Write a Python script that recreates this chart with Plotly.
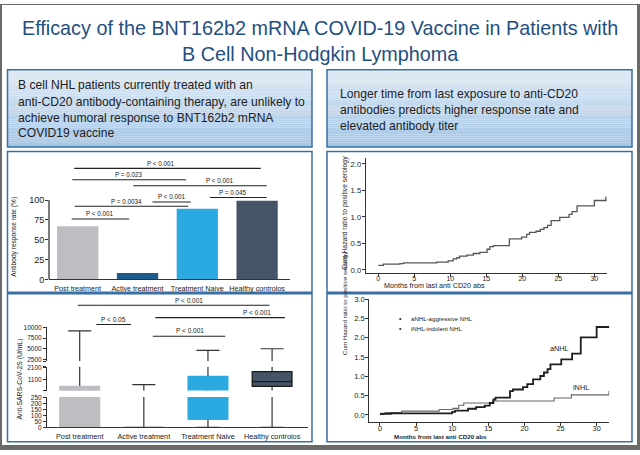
import plotly.graph_objects as go

W, H = 640, 455
def PX(x): return x / W
def PY(y): return 1 - y / H

# ---------------- data ----------------
categories = ["Post treatment", "Active treatment", "Treatment Naive", "Healthy controlos"]
response_rate = [67, 8, 89, 99]
group_colors = ["#bdbdc2", "#1d5b8c", "#2ba9e1", "#465467"]

bar_p_text = ["P < 0.001", "P = 0.023", "P < 0.001", "P < 0.001", "P = 0.045", "P = 0.0034", "P < 0.001"]
bar_p_from = [-0.06, -0.09, 0.93, 1.25, 2.21, -0.05, -0.10]
bar_p_to = [3.06, 1.81, 3.16, 1.89, 3.16, 1.85, 0.86]
bar_p_level = [139.9, 125.5, 118.1, 97.5, 103.3, 92.2, 76.2]
bar_p_label_x = [1.39, 0.86, 2.38, 1.57, 2.6, 0.81, 0.37]

titer_q1 = [0, 0, 72, 594]
titer_median = [250, 0, 700, 960]
titer_q3 = [594, 0, 1372, 1761]
titer_lowfence = [0, 0, 0, 0]
titer_upfence = [9200, 726, 4667, 5033]

box_p_text = ["P < 0.001", "P < 0.05", "P < 0.001", "P < 0.001"]
box_p_from = [-0.03, 0.26, 1.18, 1.14]
box_p_to = [2.96, 0.80, 3.20, 2.27]
box_p_line_py = [307.3, 327.0, 320.0, 339.0]
box_p_label_x = [1.70, 0.53, 2.76, 1.72]
box_p_label_py = [302.3, 321.7, 314.3, 333.3]

all_months = [0, 0.7, 3.0, 3.5, 8.1, 9.7, 10.4, 10.9, 11.3, 12.3, 13.2, 14.1, 15.1, 15.5, 16.0,
              18.2, 19.9, 20.6, 21.0, 21.9, 22.5, 23.0, 23.5, 24.0, 25.2, 26.5, 26.9, 27.6, 30.0, 31.6]
all_hazard = [0.085, 0.11, 0.12, 0.135, 0.148, 0.17, 0.21, 0.23, 0.26, 0.28, 0.31, 0.33, 0.39, 0.44, 0.46,
              0.585, 0.62, 0.67, 0.71, 0.73, 0.765, 0.80, 0.84, 0.93, 0.99, 1.05, 1.10, 1.21, 1.31, 1.38]

anhl_months = [0, 0.5, 1.5, 10.0, 10.4, 12.2, 13.3, 14.5, 15.2, 15.7, 16.0, 18.0, 18.4, 19.8, 20.4,
               21.2, 22.2, 22.7, 23.2, 23.6, 25.1, 26.6, 27.8, 30.0, 31.75]
anhl_hazard = [0.02, 0.03, 0.04, 0.08, 0.11, 0.16, 0.20, 0.24, 0.31, 0.40, 0.45, 0.62, 0.66, 0.72, 0.80,
               0.92, 1.01, 1.10, 1.19, 1.31, 1.44, 1.59, 2.01, 2.28, 2.28]
inhl_months = [0, 0.7, 3.0, 8.2, 10.1, 10.9, 11.6, 15.6, 24.1, 26.5, 31.6, 31.7]
inhl_hazard = [0.04, 0.06, 0.10, 0.14, 0.17, 0.25, 0.31, 0.36, 0.44, 0.52, 0.52, 0.62]

title_lines = ["Efficacy of the BNT162b2 mRNA COVID-19 Vaccine in Patients with",
               "B Cell Non-Hodgkin Lymphoma"]
left_box_lines = ["B cell NHL patients currently treated with an",
                  "anti-CD20 antibody-containing therapy, are unlikely to",
                  "achieve humoral response to BNT162b2 mRNA",
                  "COVID19 vaccine"]
right_box_lines = ["Longer time from last exposure to anti-CD20",
                   "antibodies predicts higher response rate and",
                   "elevated antibody titer"]

# ---------------- styles ----------------
SANS = "Liberation Sans, Arial, sans-serif"
TITLE_BLUE = "#1f4f82"
PANEL_BLUE = "#3a6ea6"
INK = "#222222"

fig = go.Figure()
shapes = []
annotations = []

# outer frame
shapes.append(dict(type="rect", xref="paper", yref="paper", x0=0, x1=1, y0=0, y1=1,
                   fillcolor="#6a6a6a", line_width=0, layer="below"))
shapes.append(dict(type="rect", xref="paper", yref="paper", x0=PX(2), x1=PX(637), y0=PY(450), y1=PY(1),
                   fillcolor="white", line_width=0, layer="below"))

def gradient_box(x0, y0, x1, y1, n=36):
    top = (224, 234, 245)
    bot = (164, 198, 231)
    for k in range(n):
        t = (k + 0.5) / n
        c = tuple(round(top[j] + (bot[j] - top[j]) * t) for j in range(3))
        shapes.append(dict(type="rect", xref="paper", yref="paper",
                           x0=PX(x0), x1=PX(x1),
                           y0=PY(y0 + (y1 - y0) * (k + 1) / n), y1=PY(y0 + (y1 - y0) * k / n),
                           fillcolor="rgb(%d,%d,%d)" % c, line_width=0, layer="below"))
    shapes.append(dict(type="rect", xref="paper", yref="paper", x0=PX(x0), x1=PX(x1),
                       y0=PY(y1), y1=PY(y0), line=dict(color=PANEL_BLUE, width=1.5), layer="below"))

def panel(x0, y0, x1, y1):
    shapes.append(dict(type="rect", xref="paper", yref="paper", x0=PX(x0), x1=PX(x1),
                       y0=PY(y1), y1=PY(y0), fillcolor="white",
                       line=dict(color=PANEL_BLUE, width=1.5), layer="below"))

gradient_box(7.5, 67, 312, 146)
gradient_box(327, 67, 632, 146)
panel(7.5, 150.5, 312, 294)
panel(7.5, 295.5, 312, 446.5)
panel(327, 150.5, 632, 294)
panel(327, 295.5, 632, 446.5)

# title and summary boxes
for line, py in zip(title_lines, [24, 51]):
    annotations.append(dict(text=line, xref="paper", yref="paper", x=0.5, y=PY(py),
                            xanchor="center", yanchor="middle", showarrow=False,
                            font=dict(family=SANS, size=19.8, color=TITLE_BLUE)))
for line, py in zip(left_box_lines, [82.7, 100, 116, 131.7]):
    annotations.append(dict(text=line, xref="paper", yref="paper", x=PX(15.5), y=PY(py),
                            xanchor="left", yanchor="middle", showarrow=False,
                            font=dict(family=SANS, size=12.1, color=INK)))
for line, py in zip(right_box_lines, [91.7, 108.3, 124]):
    annotations.append(dict(text=line, xref="paper", yref="paper", x=PX(337.5), y=PY(py),
                            xanchor="left", yanchor="middle", showarrow=False,
                            font=dict(family=SANS, size=12.1, color=INK)))

# ---------------- bar chart ----------------
fig.add_trace(go.Bar(x=categories, y=response_rate, marker=dict(color=group_colors, line_width=0),
                     width=0.69, xaxis="x", yaxis="y", hoverinfo="skip"))
shapes.append(dict(type="line", xref="paper", yref="y", x0=PX(49), x1=PX(49), y0=0, y1=100,
                   line=dict(color=INK, width=1.2)))
for t, a, b, lv, tx in zip(bar_p_text, bar_p_from, bar_p_to, bar_p_level, bar_p_label_x):
    shapes.append(dict(type="line", xref="x", yref="y", x0=a, x1=b, y0=lv, y1=lv,
                       line=dict(color=INK, width=1.1)))
    annotations.append(dict(text=t, xref="x", yref="y", x=tx, y=lv + 6.5, xanchor="center",
                            yanchor="middle", showarrow=False, font=dict(family=SANS, size=6.3, color=INK)))
annotations.append(dict(text="Antibody response rate (%)", xref="paper", yref="paper", x=PX(14.5), y=PY(238),
                        textangle=-90, showarrow=False, xanchor="center", yanchor="middle",
                        font=dict(family=SANS, size=6.6, color=INK)))

# ---------------- box plot (broken axis) ----------------
seg_axes = ["y2", "y3", "y4"]
for ya in seg_axes:
    for i, cat in enumerate(categories):
        fig.add_trace(go.Box(x=[cat], q1=[titer_q1[i]], median=[titer_q1[i]], q3=[titer_q1[i]],
                             lowerfence=[titer_lowfence[i]], upperfence=[titer_upfence[i]],
                             xaxis="x2", yaxis=ya, width=0.62, whiskerwidth=0.58, boxpoints=False,
                             line=dict(color="#333333", width=1.2), fillcolor="rgba(0,0,0,0)",
                             hoverinfo="skip"))
        if titer_q3[i] > titer_q1[i]:
            edge = "#1a1a1a" if i == 3 else group_colors[i]
            fig.add_trace(go.Box(x=[cat], q1=[titer_q1[i]], median=[titer_median[i]], q3=[titer_q3[i]],
                                 lowerfence=[titer_q1[i]], upperfence=[titer_q3[i]],
                                 xaxis="x2", yaxis=ya, width=0.62, whiskerwidth=0, boxpoints=False,
                                 line=dict(color=edge, width=1.3), fillcolor=group_colors[i],
                                 hoverinfo="skip"))
for t, a, b, lp, tx, tp in zip(box_p_text, box_p_from, box_p_to, box_p_line_py, box_p_label_x, box_p_label_py):
    shapes.append(dict(type="line", xref="x2", yref="paper", x0=a, x1=b, y0=PY(lp), y1=PY(lp),
                       line=dict(color=INK, width=1.1)))
    annotations.append(dict(text=t, xref="x2", yref="paper", x=tx, y=PY(tp), xanchor="center",
                            yanchor="middle", showarrow=False, font=dict(family=SANS, size=6.5, color=INK)))
annotations.append(dict(text="Anti-SARS-CoV-2S (U/mL)", xref="paper", yref="paper", x=PX(20), y=PY(383),
                        textangle=-90, showarrow=False, xanchor="center", yanchor="middle",
                        font=dict(family=SANS, size=6.8, color=INK)))

# ---------------- KM all patients ----------------
fig.add_trace(go.Scatter(x=all_months, y=all_hazard, mode="lines", xaxis="x3", yaxis="y5",
                         line=dict(shape="hv", color="#555555", width=1.3), hoverinfo="skip"))
annotations.append(dict(text="Cum Hazard ratio to positive serology", xref="paper", yref="paper",
                        x=PX(345), y=PY(213), textangle=-90, showarrow=False,
                        font=dict(family=SANS, size=6.8, color=INK)))
annotations.append(dict(text="Months from last anti CD20 abs", xref="paper", yref="paper",
                        x=PX(486.7), y=PY(287), showarrow=False, yanchor="middle",
                        font=dict(family=SANS, size=7.2, color=INK)))

# ---------------- KM by subtype ----------------
fig.add_trace(go.Scatter(x=inhl_months, y=inhl_hazard, mode="lines", xaxis="x4", yaxis="y6",
                         line=dict(shape="hv", color="#666666", width=1.1), hoverinfo="skip"))
fig.add_trace(go.Scatter(x=anhl_months, y=anhl_hazard, mode="lines", xaxis="x4", yaxis="y6",
                         line=dict(shape="hv", color="#1e1e1e", width=1.8), hoverinfo="skip"))
annotations.append(dict(text="aNHL", xref="x4", yref="y6", x=24.9, y=1.72, showarrow=False,
                        font=dict(family=SANS, size=7.3, color=INK)))
annotations.append(dict(text="iNHL", xref="x4", yref="y6", x=27.9, y=0.70, showarrow=False,
                        font=dict(family=SANS, size=7.3, color=INK)))
for txt, py in [("aNHL-aggressive NHL", 326), ("iNHL-indolent NHL", 336.7)]:
    annotations.append(dict(text="•", xref="paper", yref="paper", x=PX(400), y=PY(py), showarrow=False,
                            font=dict(family=SANS, size=7, color=INK)))
    annotations.append(dict(text=txt, xref="paper", yref="paper", x=PX(409), y=PY(py), showarrow=False,
                            xanchor="left", font=dict(family=SANS, size=6.1, color=INK)))
annotations.append(dict(text="Cum Hazard ratio to positive serology", xref="paper", yref="paper",
                        x=PX(345), y=PY(360), textangle=-90, showarrow=False,
                        font=dict(family=SANS, size=6.2, color=INK)))
annotations.append(dict(text="<b>Months from last anti CD20 abs</b>", xref="paper", yref="paper",
                        x=PX(489), y=PY(441.5), showarrow=False, yanchor="middle",
                        font=dict(family=SANS, size=6.2, color=INK)))

# ---------------- axes ----------------
def ax(**kw):
    base = dict(showgrid=False, zeroline=False, linecolor="#333333", linewidth=1.1,
                tickcolor="#333333", tickwidth=1, ticklen=3,
                tickfont=dict(family=SANS, size=7.3, color=INK))
    base.update(kw)
    return base

layout_axes = dict(
    xaxis=ax(domain=[PX(49), PX(290)], range=[-0.48, 3.55], anchor="y", showline=True, ticks="",
             ticklabelstandoff=2, tickfont=dict(family=SANS, size=7.2, color=INK)),
    yaxis=ax(domain=[PY(281), PY(159.5)], range=[0, 150], anchor="x", showline=False, ticks="outside",
             ticklen=3, ticklabelstandoff=-1, tickvals=[0, 25, 50, 75, 100],
             tickfont=dict(family=SANS, size=9, color=INK)),
    xaxis2=ax(domain=[PX(47), PX(308)], range=[-0.51, 3.56], anchor="y2", showline=True, ticks="",
              ticklabelstandoff=2, tickfont=dict(family=SANS, size=7.3, color=INK)),
    yaxis2=ax(domain=[PY(432), PY(401)], range=[0, 255], anchor="x2", showline=True, ticks="outside",
              tickvals=[0, 50, 100, 150, 200, 250, 255], ticktext=["0", "50", "100", "150", "200", "250", ""],
              tickfont=dict(family=SANS, size=6.5, color=INK)),
    yaxis3=ax(domain=[PY(394.3), PY(370)], range=[260, 2150], anchor="x2", showline=True, ticks="outside",
              tickvals=[260, 1100, 2100, 2150], ticktext=["", "1100", "2100", ""],
              tickfont=dict(family=SANS, size=6.5, color=INK)),
    yaxis4=ax(domain=[PY(364.3), PY(330)], range=[2150, 10000], anchor="x2", showline=True, ticks="outside",
              tickvals=[2150, 2500, 5000, 7500, 10000], ticktext=["", "2500", "5000", "7500", "10000"],
              tickfont=dict(family=SANS, size=6.5, color=INK)),
    xaxis3=ax(domain=[PX(365.7), PX(607.3)], range=[-1.75, 31.8], anchor="y5", showline=True,
              ticks="outside", ticklabelstandoff=-4, tickvals=[0, 5, 10, 15, 20, 25, 30],
              tickfont=dict(family=SANS, size=7, color=INK)),
    yaxis5=ax(domain=[PY(274), PY(156.7)], range=[-0.05, 2.12], anchor="x3", showline=True,
              ticks="outside", ticklabelstandoff=-1, tickvals=[0, 0.5, 1.0, 1.5, 2.0], tickformat=".1f",
              tickfont=dict(family=SANS, size=7.6, color=INK)),
    xaxis4=ax(domain=[PX(369.3), PX(609.3)], range=[-1.48, 31.75], anchor="y6", showline=True,
              ticks="outside", ticklabelstandoff=-4, tickvals=[0, 5, 10, 15, 20, 25, 30],
              tickfont=dict(family=SANS, size=7.3, color=INK)),
    yaxis6=ax(domain=[PY(426.7), PY(301)], range=[-0.19, 3.005], anchor="x4", showline=True,
              ticks="outside", ticklabelstandoff=-1, tickvals=[0, 0.5, 1.0, 1.5, 2.0, 2.5, 3.0],
              tickformat=".1f", tickfont=dict(family=SANS, size=7.6, color=INK)),
)

fig.update_layout(width=W, height=H, autosize=False, margin=dict(l=0, r=0, t=0, b=0),
                  paper_bgcolor="white", plot_bgcolor="rgba(0,0,0,0)", showlegend=False,
                  boxmode="overlay", bargap=0.3, shapes=shapes, annotations=annotations,
                  font=dict(family=SANS, color=INK), **layout_axes)

fig.write_html("out.html", config={"displayModeBar": False},
               post_script="document.body.style.margin='0';document.body.style.overflow='hidden';")
